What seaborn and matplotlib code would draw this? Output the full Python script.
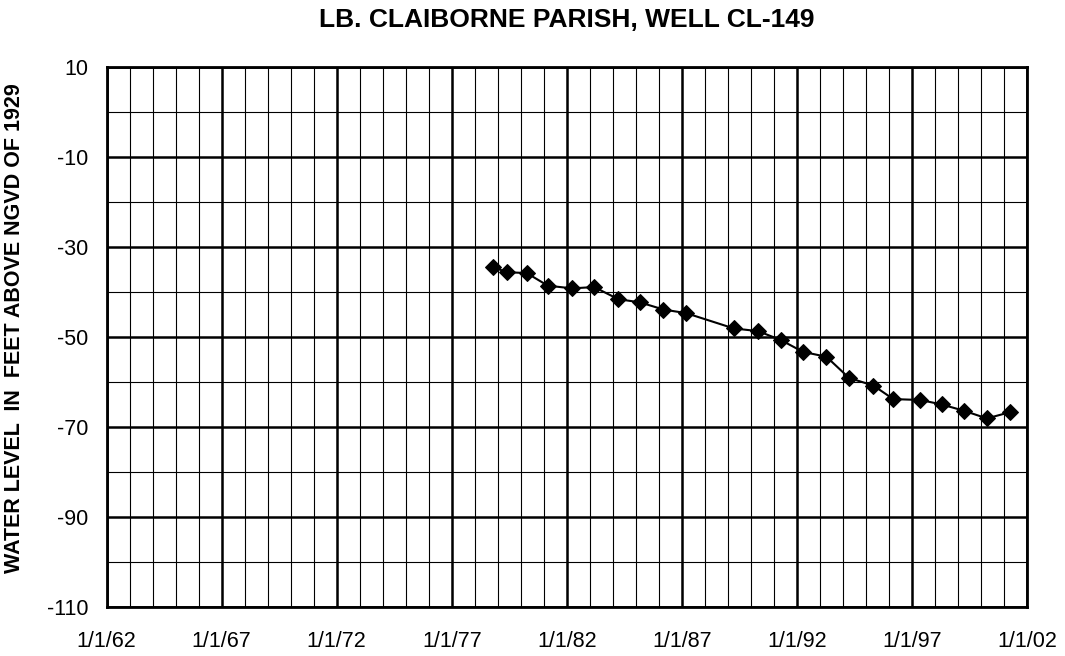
import numpy as np
import pandas as pd

import matplotlib.pyplot as plt
import matplotlib.dates as mdates
from matplotlib.ticker import FixedLocator, FuncFormatter

import seaborn as sns


dates = ['1978-10-12', '1979-05-20', '1980-04-05', '1981-03-05', '1982-03-28',
         '1983-03-10', '1984-03-28', '1985-03-05', '1986-03-15', '1987-03-10',
         '1989-04-05', '1990-04-25', '1991-04-25', '1992-04-05', '1993-04-15',
         '1994-04-08', '1995-05-01', '1996-03-10', '1997-05-15', '1998-04-20',
         '1999-04-08', '2000-04-05', '2001-04-08']
levels = [-34.4, -35.6, -35.8, -38.6, -39.2, -38.9, -41.6, -42.3, -43.9, -44.7,
          -48.1, -48.7, -50.7, -53.3, -54.4, -59.1, -60.8, -63.8, -64.0, -65.0,
          -66.4, -68.1, -66.7]

label_years = [1962, 1967, 1972, 1977, 1982, 1987, 1992, 1997, 2002]
y_ticks = [10, -10, -30, -50, -70, -90, -110]

well = pd.DataFrame({'date': pd.to_datetime(dates), 'level': levels})

sns.set_style('white')
plt.rcParams['font.family'] = ['Liberation Sans', 'DejaVu Sans']
plt.rcParams['axes.unicode_minus'] = False
for k in ['text.color', 'axes.labelcolor', 'xtick.color', 'ytick.color']:
    plt.rcParams[k] = 'black'

fig = plt.figure(figsize=(10.65, 6.56), dpi=100)
ax = fig.add_axes([0.1002, 0.0747, 0.8641, 0.8232])

# grid first so the line sits above it
major_x = [mdates.date2num(pd.Timestamp(year=y, month=1, day=1)) for y in label_years]
minor_x = [mdates.date2num(pd.Timestamp(year=y, month=1, day=1))
           for y in range(label_years[0], label_years[-1] + 1)]
for x in minor_x:
    ax.axvline(x, color='black', lw=0.8, zorder=1)
for x in major_x:
    ax.axvline(x, color='black', lw=1.8, zorder=1)
for y in range(-110, 11, 10):
    ax.axhline(y, color='black', lw=1.8 if y in y_ticks else 0.8, zorder=1)

sns.lineplot(data=well, x='date', y='level', ax=ax, color='black', lw=1.5,
             marker='D', markersize=8, markeredgecolor='black', zorder=3)

ax.set_xlim(major_x[0], major_x[-1])
ax.set_ylim(-110, 10)
ax.xaxis.set_major_locator(FixedLocator(major_x))
ax.xaxis.set_major_formatter(FuncFormatter(
    lambda v, pos: (lambda d: f'{d.month}/{d.day}/{d.year % 100:02d}')(mdates.num2date(v))))
ax.yaxis.set_major_locator(FixedLocator(y_ticks))
ax.tick_params(axis='both', labelsize=15.5, length=0)
ax.tick_params(axis='x', pad=17.5)
ax.tick_params(axis='y', pad=13)

for s in ax.spines.values():
    s.set_color('black')
    s.set_linewidth(2)
    s.set_zorder(4)

ax.set_xlabel('')
ax.set_ylabel('')
fig.text(15 / 1065, 1 - 328 / 656, 'WATER LEVEL  IN  FEET ABOVE NGVD OF 1929',
         rotation=90, ha='center', va='center', fontsize=15.5, fontweight='bold')
ax.set_title('LB. CLAIBORNE PARISH, WELL CL-149', fontsize=19, fontweight='bold', pad=29)

fig.savefig('out.png', dpi=100)
